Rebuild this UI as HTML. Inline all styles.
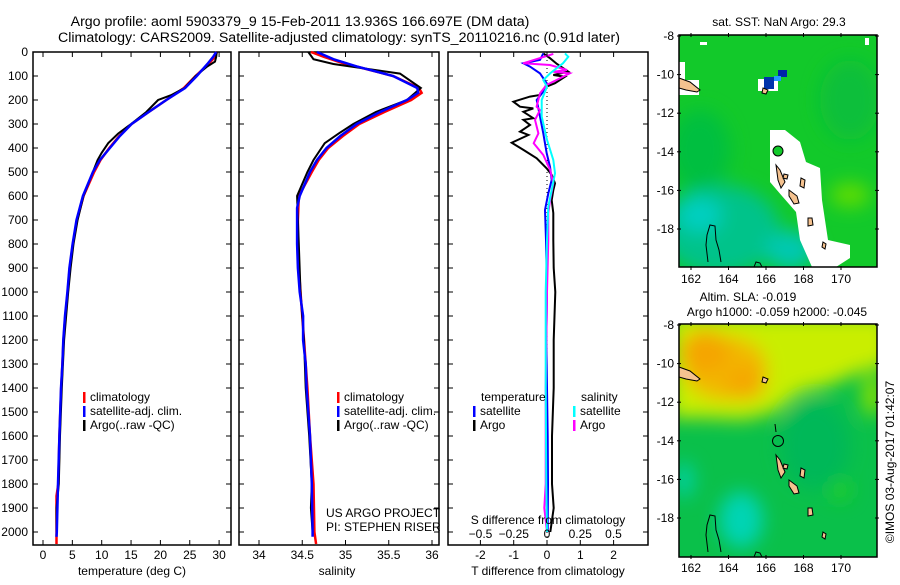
<!DOCTYPE html>
<html><head><meta charset="utf-8">
<style>
html,body{margin:0;padding:0;background:#fff;}
body{width:900px;height:580px;overflow:hidden;font-family:"Liberation Sans",Arial,sans-serif;}
svg text{font-family:"Liberation Sans",Arial,sans-serif;font-size:12px;fill:#000;}
</style></head>
<body>
<svg id="chart" width="900" height="580" viewBox="0 0 900 580" xmlns="http://www.w3.org/2000/svg">
<defs>
<filter id="blur" x="-50%" y="-50%" width="200%" height="200%"><feGaussianBlur stdDeviation="9"/></filter>
<clipPath id="clipTop"><rect x="679" y="35" width="198" height="232"/></clipPath>
<clipPath id="clipBot"><rect x="679" y="324" width="198" height="233"/></clipPath>
</defs>
<text x="300" y="26" text-anchor="middle" style="font-size:14.2px">Argo profile: aoml 5903379_9 15-Feb-2011 13.936S 166.697E (DM data)</text>
<text x="339" y="42" text-anchor="middle" style="font-size:14.2px">Climatology: CARS2009. Satellite-adjusted climatology: synTS_20110216.nc (0.91d later)</text>

<!-- top map -->
<g clip-path="url(#clipTop)">
<rect x="679" y="35" width="198" height="232" fill="#12c92a"/>
<g filter="url(#blur)">
<ellipse cx="720" cy="230" rx="60" ry="45" fill="#00c38a"/>
<ellipse cx="700" cy="215" rx="22" ry="18" fill="#00cfc0"/>
<ellipse cx="790" cy="250" rx="25" ry="20" fill="#00c8b0"/>
<ellipse cx="850" cy="195" rx="20" ry="12" fill="#60dd00"/>
<ellipse cx="700" cy="150" rx="30" ry="40" fill="#06bf40"/>
<ellipse cx="850" cy="100" rx="30" ry="40" fill="#0cbf3a"/>
</g>
<polygon points="770,130 785,130 800,142 806,162 820,168 822,200 828,240 850,245 850,258 836,267 812,267 800,240 796,212 782,196 770,182" fill="#fff"/>
<rect x="679" y="80" width="20" height="15" fill="#fff"/>
<rect x="679" y="62" width="6" height="20" fill="#fff"/>
<rect x="758" y="79" width="20" height="12" fill="#fff"/>
<rect x="764" y="77" width="10" height="12" fill="#0033aa"/>
<rect x="778" y="70" width="9" height="7" fill="#0022aa"/>
<rect x="774" y="76" width="7" height="5" fill="#2299ff"/>
<rect x="700" y="42" width="7" height="3" fill="#fff"/>
<rect x="865" y="38" width="4" height="7" fill="#fff"/>
</g>
<g fill="#f5c28f" stroke="#000" stroke-width="1">
<polygon points="679,78 690,82 700,90 697,92 686,90 679,88"/>
<polygon points="776,165 780,170 785,182 781,188 778,180"/>
<polygon points="789,190 797,196 799,203 794,204 789,196"/>
<polygon points="808,218 812,218 813,225 808,226"/>
<polygon points="823,242 826,244 825,249 822,247"/>
<polygon points="763,88 768,90 766,94 762,93"/>
<polygon points="784,174 788,175 787,179 783,178"/>
<polygon points="801,178 805,180 804,188 800,186"/>
</g>
<g fill="none" stroke="#000" stroke-width="1">
<path d="M708,262 L706,245 L707,235 L710,225 L715,226 L716,240 L719,250 L721,262"/>
<path d="M754,267 L756,262 L760,263 L762,267"/>
</g>
<circle cx="778" cy="151" r="5" fill="#12c92a" stroke="#000" stroke-width="1"/>
<rect x="679" y="35" width="198" height="232" fill="none" stroke="#000" stroke-width="1.5"/>
<text x="779" y="26" text-anchor="middle">sat. SST: NaN Argo: 29.3</text>

<!-- bottom map -->
<g clip-path="url(#clipBot)">
<rect x="679" y="324" width="198" height="233" fill="#0ac04a"/>
<g filter="url(#blur)">
<polygon points="670,315 890,315 890,365 860,372 830,385 800,392 775,412 745,420 700,418 670,418" fill="#c9ee00"/>
<ellipse cx="725" cy="368" rx="42" ry="32" fill="#f2b800"/>
<ellipse cx="705" cy="352" rx="25" ry="22" fill="#f5a500"/>
<ellipse cx="745" cy="382" rx="20" ry="18" fill="#f5a800"/>
<ellipse cx="872" cy="395" rx="10" ry="22" fill="#88e000"/>
<ellipse cx="741" cy="520" rx="22" ry="28" fill="#00d4b4"/>
<ellipse cx="684" cy="480" rx="10" ry="18" fill="#00d0a0"/>
<ellipse cx="815" cy="445" rx="35" ry="45" fill="#00b858"/>
<ellipse cx="840" cy="490" rx="10" ry="10" fill="#20d020"/>
</g>
</g>
<g fill="#f5c28f" stroke="#000" stroke-width="1">
<polygon points="679,367 690,371 700,379 697,381 686,379 679,377"/>
<polygon points="776,455 780,460 785,472 781,478 778,470"/>
<polygon points="789,480 797,486 799,493 794,494 789,486"/>
<polygon points="808,508 812,508 813,515 808,516"/>
<polygon points="823,532 826,534 825,539 822,537"/>
<polygon points="763,377 768,379 766,383 762,382"/>
<polygon points="784,464 788,465 787,469 783,468"/>
<polygon points="801,468 805,470 804,478 800,476"/>
</g>
<g fill="none" stroke="#000" stroke-width="1">
<path d="M708,552 L706,535 L707,525 L710,515 L715,516 L716,530 L719,540 L721,552"/>
<path d="M754,557 L756,552 L760,553 L762,557"/>
<path d="M775,424 L776,432"/>
</g>
<circle cx="778" cy="441" r="5.5" fill="none" stroke="#000" stroke-width="1"/>
<rect x="679" y="324" width="198" height="233" fill="none" stroke="#000" stroke-width="1.5"/>
<text x="748" y="301" text-anchor="middle">Altim. SLA: -0.019</text>
<text x="777" y="316" text-anchor="middle">Argo h1000: -0.059 h2000: -0.045</text>
<text transform="translate(894,462) rotate(-90)" text-anchor="middle">©IMOS 03-Aug-2017 01:42:07</text>

<g id="plots"></g>
</svg>
<script>
// ---------- data ----------
const pTempClim = [0,20,50,100,150,200,250,300,350,400,450,500,600,700,800,900,1000,1100,1200,1300,1400,1600,1800,1850,2000,2050];
const tempClim  = [29.6,29.3,28.2,26.0,24.0,21.0,18.0,15.1,13.0,11.3,9.8,8.7,6.9,5.8,5.1,4.55,4.2,3.8,3.5,3.3,3.1,2.8,2.6,2.3,2.3,2.3];
const pTempSat  = [0,20,50,100,150,200,250,300,350,400,450,500,600,700,800,900,1000,1100,1200,1300,1400,1600,1800,2000,2020];
const tempSat   = [29.5,29.0,28.0,26.2,24.2,21.0,18.0,15.1,13.1,11.4,9.7,8.5,6.8,5.7,5.05,4.5,4.15,3.75,3.46,3.3,3.07,2.8,2.55,2.35,2.3];
const pTempArgo = [0,20,40,60,100,150,180,200,250,300,340,380,420,450,500,600,700,800,900,1000,1200,1400,1600,1800,1900,2000];
const tempArgo  = [29.6,29.5,29.3,28.0,26.0,24.1,21.8,19.6,17.6,15.0,12.8,11.1,10.0,9.3,8.5,6.9,5.9,5.2,4.7,4.3,3.6,3.2,2.9,2.7,2.3,2.3];

const pSalClim = [0,20,50,60,100,150,170,200,250,300,350,400,450,500,600,700,800,900,1000,1200,1400,1600,1800,2000,2050];
const salClim  = [34.6,34.75,35.0,35.12,35.55,35.85,35.88,35.76,35.45,35.16,34.97,34.8,34.69,34.61,34.46,34.45,34.45,34.46,34.48,34.52,34.56,34.59,34.63,34.64,34.66];
const pSalSat  = [0,30,60,100,150,170,200,250,300,350,400,450,500,600,650,800,900,1000,1100,1200,1300,1400,1600,1800,2000,2020];
const salSat   = [34.67,34.86,35.13,35.55,35.83,35.84,35.71,35.40,35.13,34.94,34.78,34.67,34.59,34.47,34.44,34.44,34.45,34.47,34.51,34.51,34.54,34.55,34.59,34.61,34.62,34.62];
const pSalArgo = [0,30,50,60,90,150,200,250,300,340,380,450,500,600,700,800,1000,1200,1400,1600,1800,1900,2000];
const salArgo  = [34.57,34.63,34.86,35.05,35.63,35.87,35.71,35.35,35.09,34.92,34.76,34.63,34.56,34.44,34.45,34.46,34.48,34.52,34.54,34.58,34.61,34.60,34.62];

const pDiffTArgo = [6,26,50,82,96,103,130,144,179,186,207,228,235,249,276,283,304,332,346,378,408,443,485,512,547,576,617,671,783,900,1000,1200,1400,1600,1800,1900,2000];
const dTArgo     = [-0.11,0.09,0.3,0.64,0.19,0.54,0.24,-0.01,-0.21,-0.51,-1.01,-0.81,-0.41,-0.71,-0.41,-0.71,-0.51,-0.81,-0.56,-1.06,-0.71,-0.31,-0.01,0.14,0.24,0.19,0.14,0.19,0.19,0.2,0.25,0.2,0.2,0.15,0.15,0.2,0.1];
const pDiffTSat  = [6,33,47,61,89,130,165,200,269,339,422,478,533,589,658,783,1000,1200,1400,1600,1800,2000];
const dTSat      = [-0.11,-0.21,-0.71,-0.51,-0.21,-0.01,-0.11,-0.31,-0.21,-0.11,-0.01,0.09,0.14,0.04,-0.06,-0.03,0.0,-0.02,0.0,0.02,0.03,0.02];
const pDiffSSat  = [6,20,47,89,117,144,200,269,366,450,505,575,644,783,1000,1400,1800,2000];
const dSSat      = [0.135,0.16,0.12,0.023,-0.028,0.0,-0.04,-0.04,0.0,0.047,0.06,0.035,0.01,0.0,-0.01,-0.01,-0.005,0.0];
const pDiffSArgo = [8,47,54,75,82,89,117,137,172,228,242,283,339,380,429,491,547,617,671,783,1000,1400,1800,1900,2000];
const dSArgo     = [0.047,-0.18,0.023,0.15,0.047,0.17,0.07,-0.003,-0.053,-0.078,-0.053,-0.09,-0.065,-0.10,-0.028,0.023,0.047,0.023,0.01,0.01,0.0,-0.01,-0.01,-0.02,0.0];

const depthTicks = [0,100,200,300,400,500,600,700,800,900,1000,1100,1200,1300,1400,1500,1600,1700,1800,1900,2000];
const tempTicks = [0,5,10,15,20,25,30];
const salTicks = [34,34.5,35,35.5,36];
const tDiffTicks = [-2,-1,0,1,2];
const sDiffTicks = [-0.5,-0.25,0,0.25,0.5];

// ---------- axes ----------
const TOP=52, BOT=545;
function yP(p){ return 52 + p*0.24; }
function xT(t){ return 43 + t*5.87; }
function xS(s){ return 259 + (s-34)*86.5; }
function xDT(d){ return 547 + d*33.3; }
function xDS(d){ return 547 + d*133; }

const NS='http://www.w3.org/2000/svg';
const root=document.getElementById('plots');
function mk(tag,attrs,parent){ const e=document.createElementNS(NS,tag); for(const k in attrs) e.setAttribute(k,attrs[k]); (parent||root).appendChild(e); return e; }
function txt(s,x,y,anchor,parent){ const e=mk('text',{x:x,y:y,'text-anchor':anchor||'start'},parent); e.textContent=s; return e; }

function panel(name,x0,x1){
  const g=mk('g',{});
  
  
  const r=mk('rect',{x:x0,y:TOP,width:x1-x0,height:BOT-TOP,fill:'none',stroke:'#000','stroke-width':1.5},g);
  
  
  depthTicks.forEach(p=>{
    mk('line',{x1:x0,x2:x0+5,y1:yP(p),y2:yP(p),stroke:'#000','stroke-width':1},g);
    mk('line',{x1:x1-5,x2:x1,y1:yP(p),y2:yP(p),stroke:'#000','stroke-width':1},g);
  });
  return g;
}
function line(g,name,xs,ps,xf,color,w,dash){
  const pts=xs.map((v,i)=>xf(v).toFixed(1)+','+yP(ps[i]).toFixed(1)).join(' ');
  const l=mk('polyline',{points:pts,fill:'none',stroke:color,'stroke-width':w||2,'stroke-linejoin':'miter'},g);
  if(dash) l.setAttribute('stroke-dasharray',dash);
  
  
}
function xticks(g,ticks,xf,labelY,fmt){
  ticks.forEach(t=>{
    const x=xf(t);
    mk('line',{x1:x,x2:x,y1:BOT-5,y2:BOT,stroke:'#000','stroke-width':1},g);
    mk('line',{x1:x,x2:x,y1:TOP,y2:TOP+5,stroke:'#000','stroke-width':1},g);
    const lb=txt(fmt?fmt(t):String(t),x,labelY,'middle',g);
    
    
  });
}
function legendEntry(g,name,color,x,y,label){
  mk('rect',{x:x,y:y-9,width:2.5,height:11,fill:color},g);
  const t=txt(label,x+7,y,'start',g);
  
  
}

// y-axis labels
const yl=mk('g',{});


depthTicks.forEach(p=>{ txt(String(p),28,yP(p)+4,'end',yl); });

// Temperature panel
const g1=panel('temperature-panel',33,231);
line(g1,'temp-climatology-line',tempClim,pTempClim,xT,'#ff0000',2.5);
line(g1,'temp-argo-line',tempArgo,pTempArgo,xT,'#000000',2);
line(g1,'temp-satellite-line',tempSat,pTempSat,xT,'#0000ff',2.5);
xticks(g1,tempTicks,xT,559);
const xl1=txt('temperature (deg C)',132,575,'middle',g1);


legendEntry(g1,'legend-climatology','#ff0000',83,401,'climatology');
legendEntry(g1,'legend-satellite-adj','#0000ff',83,415,'satellite-adj. clim.');
legendEntry(g1,'legend-argo','#000000',83,429,'Argo(..raw -QC)');

// Salinity panel
const g2=panel('salinity-panel',239,439);
line(g2,'sal-climatology-line',salClim,pSalClim,xS,'#ff0000',2.5);
line(g2,'sal-argo-line',salArgo,pSalArgo,xS,'#000000',2);
line(g2,'sal-satellite-line',salSat,pSalSat,xS,'#0000ff',2.5);
xticks(g2,salTicks,xS,559);
const xl2=txt('salinity',337,575,'middle',g2);


legendEntry(g2,'legend-climatology-sal','#ff0000',337,401,'climatology');
legendEntry(g2,'legend-satellite-adj-sal','#0000ff',337,415,'satellite-adj. clim.');
legendEntry(g2,'legend-argo-sal','#000000',337,429,'Argo(..raw -QC)');
const pi1=txt('US ARGO PROJECT',326,517,'start',g2);


const pi2=txt('PI: STEPHEN RISER',326,531,'start',g2);



// Difference panel
const g3=panel('difference-panel',448,648);
mk('line',{x1:xDT(0),x2:xDT(0),y1:TOP,y2:BOT,stroke:'#000','stroke-width':1,'stroke-dasharray':'1,3'},g3);
line(g3,'dT-argo-line',dTArgo,pDiffTArgo,xDT,'#000000',2);
line(g3,'dT-satellite-line',dTSat,pDiffTSat,xDT,'#0000ff',2);
line(g3,'dS-argo-line',dSArgo,pDiffSArgo,xDS,'#ff00ff',2);
line(g3,'dS-satellite-line',dSSat,pDiffSSat,xDS,'#00ffff',2);
xticks(g3,tDiffTicks,xDT,559);
sDiffTicks.forEach(s=>{
  const lb=txt(s<0?'\u2212'+String(-s):String(s),xDS(s),538,'middle',g3);
  
  
});
const st=txt('S difference from climatology',548,524,'middle',g3);


const tt=txt('T difference from climatology',548,575,'middle',g3);


const lt=txt('temperature',481,401,'start',g3);


const ls=txt('salinity',581,401,'start',g3);


legendEntry(g3,'legend-dT-satellite','#0000ff',473,415,'satellite');
legendEntry(g3,'legend-dT-argo','#000000',473,429,'Argo');
legendEntry(g3,'legend-dS-satellite','#00ffff',573,415,'satellite');
legendEntry(g3,'legend-dS-argo','#ff00ff',573,429,'Argo');

// Map axes
const latTicks=[-8,-10,-12,-14,-16,-18];
const lonTicks=[162,164,166,168,170];
function mapAxes(name,yTop){
  const g=mk('g',{});
  
  
  latTicks.forEach(l=>{
    const y=yTop+(-8-l)*19.3;
    mk('line',{x1:677,x2:681,y1:y,y2:y,stroke:'#000'},g);
    mk('line',{x1:875,x2:879,y1:y,y2:y,stroke:'#000'},g);
    txt(String(l),674,y+4,'end',g);
  });
  lonTicks.forEach(l=>{
    const x=691+(l-162)*18.75;
    mk('line',{x1:x,x2:x,y1:yTop-3,y2:yTop+1,stroke:'#000'},g);
    mk('line',{x1:x,x2:x,y1:yTop+230,y2:yTop+234,stroke:'#000'},g);
    txt(String(l),x,yTop+247,'middle',g);
  });
}
mapAxes('sst-map-axes',36);
mapAxes('sla-map-axes',325);
</script>
</body></html>
